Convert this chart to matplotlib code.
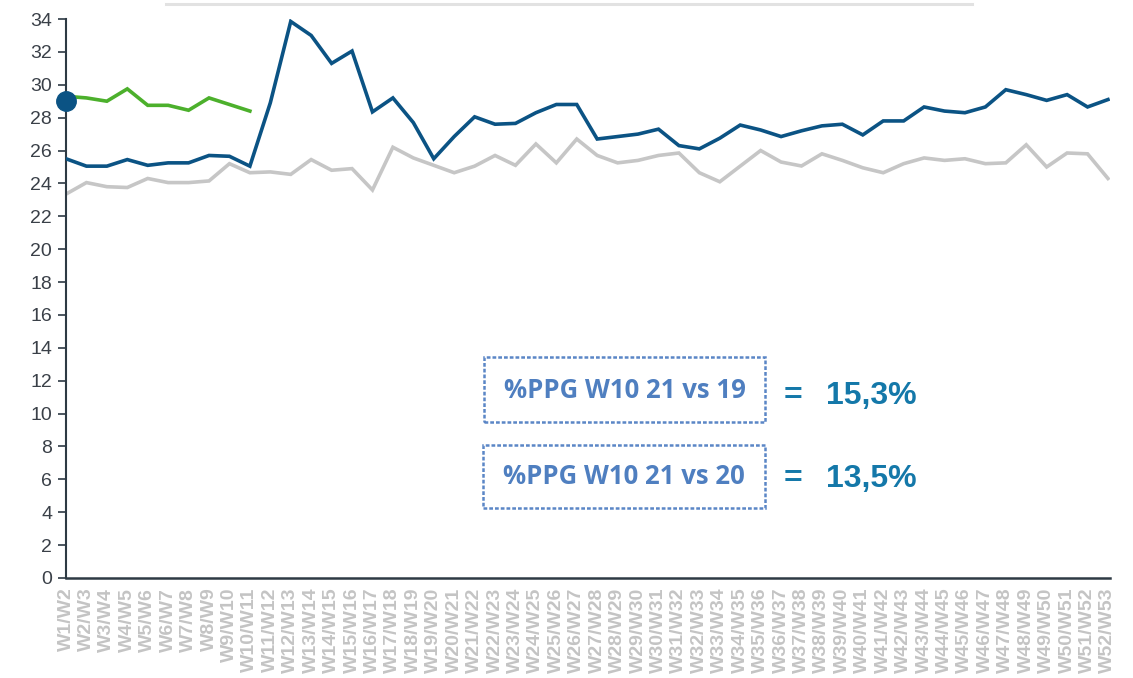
import matplotlib
matplotlib.use("Agg")
import matplotlib.pyplot as plt
from matplotlib.patches import Rectangle
from matplotlib.lines import Line2D

# semanas W1/W2 ... W52/W53
weeks = ["W%d/W%d" % (i, i + 1) for i in range(1, 53)]

# serie azul (2020)
blue = [25.5, 25.05, 25.05, 25.45, 25.1, 25.25, 25.25, 25.7, 25.65, 25.05,
        28.9, 33.85, 33.0, 31.3, 32.05, 28.35, 29.2, 27.7, 25.5, 26.85,
        28.05, 27.6, 27.65, 28.3, 28.8, 28.8, 26.7, 26.85, 27.0, 27.3,
        26.3, 26.1, 26.75, 27.55, 27.25, 26.85, 27.2, 27.5, 27.6, 26.95,
        27.8, 27.8, 28.65, 28.4, 28.3, 28.65, 29.7, 29.4, 29.05, 29.4,
        28.65, 29.1]

# serie cinza (2019)
grey = [23.35, 24.05, 23.8, 23.75, 24.3, 24.05, 24.05, 24.15, 25.2, 24.65,
        24.7, 24.55, 25.45, 24.8, 24.9, 23.6, 26.2, 25.55, 25.1, 24.65,
        25.05, 25.7, 25.1, 26.4, 25.25, 26.7, 25.7, 25.25, 25.4, 25.7,
        25.85, 24.65, 24.1, 25.05, 26.0, 25.3, 25.06, 25.8, 25.4, 24.95,
        24.65, 25.2, 25.55, 25.4, 25.5, 25.2, 25.25, 26.35, 25.0, 25.85,
        25.8, 24.3]

# serie verde (2021, ate W10)
green = [29.3, 29.2, 29.0, 29.75, 28.75, 28.75, 28.45, 29.2, 28.8, 28.4]

# ponto destacado
dot_x = [0]
dot_y = [29.0]

labels_box = ["%PPG W10 21 vs 19", "%PPG W10 21 vs 20"]
labels_val = ["15,3%", "13,5%"]

W, H = 1133, 678
fig = plt.figure(figsize=(W / 100, H / 100), dpi=100)
ax = fig.add_axes([66 / W, 1 - 578 / H, (1110 - 66) / W, (578 - 19) / H])

x = list(range(len(weeks)))
ax.plot(x, grey, color="#C6C6C6", lw=2.6, solid_joinstyle="miter", zorder=2)
ax.plot(x, blue, color="#0B5384", lw=2.6, solid_joinstyle="miter", zorder=3)
ax.plot(x[:len(green)], green, color="#4CB02C", lw=2.6, solid_joinstyle="miter", zorder=4)
ax.plot(dot_x, dot_y, "o", color="#0B5384", ms=14, zorder=5, clip_on=False)

ax.set_xlim(0, 51.1)
ax.set_ylim(0, 34)
ax.set_yticks(range(0, 35, 2))
ax.set_xticks(x)
ax.set_xticklabels(weeks, rotation=90, fontsize=14, fontweight="bold",
                   color="#C4C4C4", family="Liberation Sans")
for t in ax.get_yticklabels():
    t.set_family("Liberation Sans")
ax.tick_params(axis="y", labelsize=14, labelcolor="#3A4048", color="#2E3A44",
               length=6, width=1.2, pad=4)
ax.tick_params(axis="x", length=0, pad=7)

for s in ["top", "right"]:
    ax.spines[s].set_visible(False)
ax.spines["left"].set_color("#2E3A44")
ax.spines["bottom"].set_color("#2E3A44")
ax.spines["left"].set_linewidth(1.5)
ax.spines["bottom"].set_linewidth(1.8)

# linha cinza no topo
fig.add_artist(Line2D([166 / W, 972 / W], [1 - 4 / H, 1 - 4 / H],
                      color="#E2E2E2", lw=2.2))

# caixas com texto (y do texto e do valor em pixels)
boxes = [(484, 357, 765, 422), (483, 445, 765, 508)]
text_y = [391, 477]
val_y = [396, 479]
for (x0, y0, x1, y1), ty, vy, lb, val in zip(boxes, text_y, val_y, labels_box, labels_val):
    fig.add_artist(Rectangle((x0 / W, 1 - y1 / H), (x1 - x0) / W, (y1 - y0) / H,
                             fill=False, edgecolor="#5B86C6", lw=1.8,
                             linestyle=(0, (1.5, 0.8)), transform=fig.transFigure))
    fig.text((x0 + x1) / 2 / W, 1 - ty / H, lb, ha="center", va="center",
             fontsize=18.5, fontweight="bold", color="#4F7FC0", family="Open Sans")
    fig.text(793 / W, 1 - vy / H, "=", ha="center", va="center",
             fontsize=23, fontweight="bold", color="#1478A9", family="Liberation Sans")
    fig.text(826 / W, 1 - vy / H, val, ha="left", va="center",
             fontsize=23, fontweight="bold", color="#1478A9", family="Liberation Sans")

fig.savefig("out.png", dpi=100)
